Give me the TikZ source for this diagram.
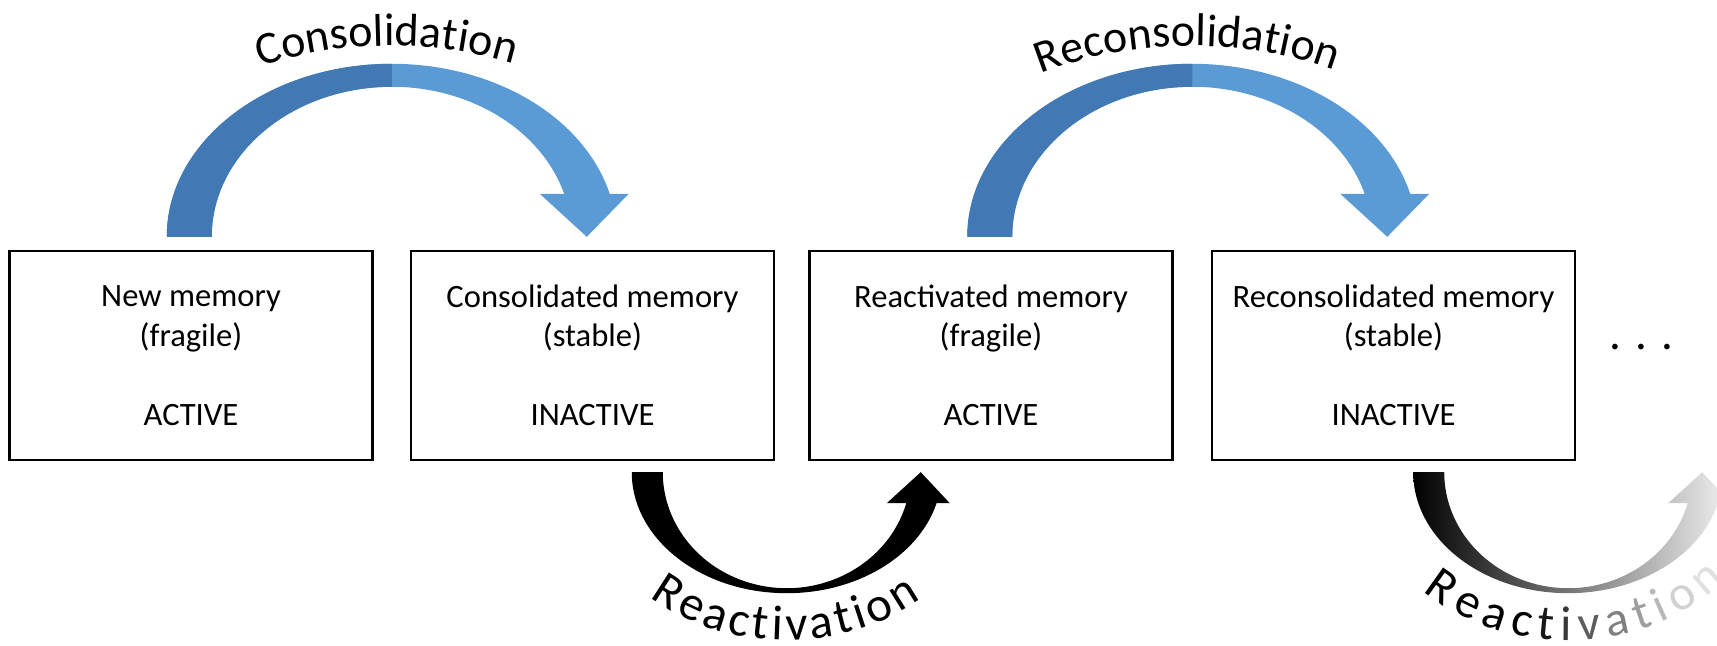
\documentclass[tikz,border=0pt]{standalone}
\usepackage{fontspec}
\setmainfont{Carlito}
\usepackage{tikz}
\usetikzlibrary{calc, decorations.text}

\definecolor{arcdark}{RGB}{66,120,180}
\definecolor{arclight}{RGB}{91,155,213}

\tikzset{
  membox/.style = {draw, line width=1.2pt, minimum width=181.5pt, minimum height=104.5pt,
    inner sep=0pt, align=center, font=\fontsize{16.3}{19.75}\selectfont},
  pics/overarc/.style = {code={
    \fill[arclight] (-225,0) arc[start angle=180, end angle=14.4, x radius=225, y radius=173]
      -- (237,43) -- (195,0) -- (148,43) -- (172.4,43)
      arc[start angle=16.66, end angle=180, x radius=180, y radius=150] -- cycle;
    \fill[arcdark] (-225,0) arc[start angle=180, end angle=90, x radius=225, y radius=173]
      -- (0,150) arc[start angle=90, end angle=180, x radius=180, y radius=150] -- cycle;
    \fontsize{23}{28}\selectfont
    \path[decorate, decoration={text along path, text align=center, text={#1}}]
      (-241.6,105.6) arc[start angle=146.4, end angle=36, x radius=290, y radius=191];
  }},
  pics/underarc/.style n args = {4}{code={
    \path[#1] (-155,0) arc[start angle=180, end angle=345.16, x radius=155, y radius=121]
      -- (163,-31) -- (134,0) -- (100,-31) -- (119.5,-31)
      arc[start angle=344.5, end angle=180, x radius=124, y radius=116] -- cycle;
    \fontsize{24.5}{29}\selectfont
    \path[decorate, decoration={text along path, text align=fit to path, text={#2}}]
      (#3:205 and 168) arc[start angle=#3, end angle=#4, x radius=205, y radius=168];
  }}
}

\begin{document}
\begin{tikzpicture}[x=0.5pt, y=0.5pt]
\useasboundingbox (0,0) rectangle (1717,646);
\clip (0,0) rectangle (1717,646);

\node[membox] (new)   at (191,290.5)    {New memory\\(fragile)\\[19.75pt]ACTIVE};
\node[membox] (cons)  at (592.5,290.5)  {Consolidated memory\\(stable)\\[19.75pt]INACTIVE};
\node[membox] (react) at (991,290.5)    {Reactivated memory\\(fragile)\\[19.75pt]ACTIVE};
\node[membox] (recon) at (1393.5,290.5) {Reconsolidated memory\\(stable)\\[19.75pt]INACTIVE};
\node[anchor=base, font=\fontsize{23.5}{28}\selectfont] (dots) at (1641,296) {. . .};

% consolidation steps
\pic at ($(new.north)!0.5!(cons.north)+(0,13)$) {overarc=Consolidation};
\pic at ($(react.north)!0.5!(recon.north)+(0,13)$) {overarc=Reconsolidation};

% reactivation, the last one fades out
\pic at ($(cons.south east)!0.5!(react.south west)+(-5,-11)$) {underarc={fill=black}{Reactivation}{228}{311}};
\pic at ($(recon.south east)+(-8,-11)$) {underarc={left color=black, middle color=black!72, right color=black!5}%
  {|\color{black}|Reac|\color{black!90}|t|\color{black!78}|i|\color{black!64}|v|\color{black!50}|a|\color{black!38}|t|\color{black!28}|i|\color{black!18}|o|\color{black!12}|n}{225}{320}};
\end{tikzpicture}
\end{document}
